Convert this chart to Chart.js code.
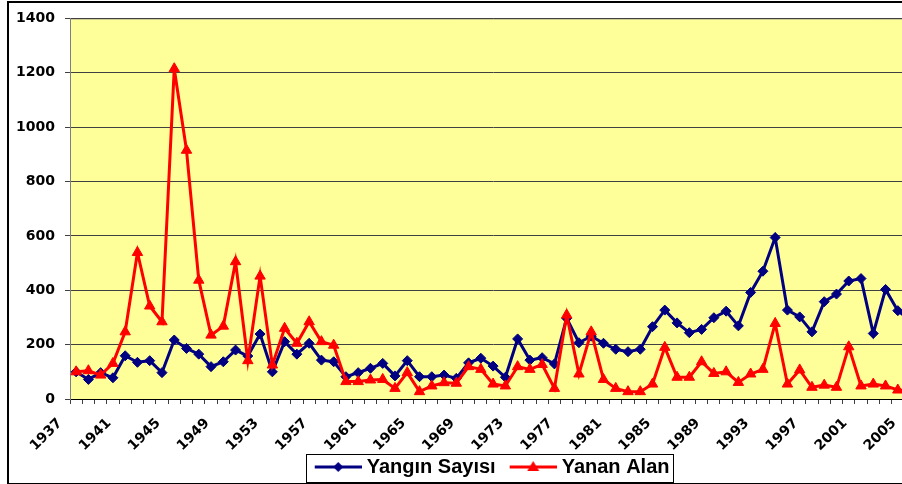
<!DOCTYPE html>
<html>
<head>
<meta charset="utf-8">
<script src="https://cdn.jsdelivr.net/npm/chart.js@4.4.1/dist/chart.umd.min.js"></script>
<style>
  html, body { margin: 0; padding: 0; background: #fff; }
  #wrap { position: relative; width: 902px; height: 484px; overflow: hidden; }
  #frame { position: absolute; left: 7px; top: 1px; width: 1000px; height: 480px; border: 2px solid #000; }
  #chart { position: absolute; left: 0; top: 0; }
</style>
</head>
<body>
<div id="wrap">
  <div id="frame"></div>
  <canvas id="chart" width="933" height="488"></canvas>
</div>
<script>
// categories: one per year
const years = [
  '1937', '1938', '1939', '1940', '1941', '1942', '1943', '1944', '1945', '1946',
  '1947', '1948', '1949', '1950', '1951', '1952', '1953', '1954', '1955', '1956',
  '1957', '1958', '1959', '1960', '1961', '1962', '1963', '1964', '1965', '1966',
  '1967', '1968', '1969', '1970', '1971', '1972', '1973', '1974', '1975', '1976',
  '1977', '1978', '1979', '1980', '1981', '1982', '1983', '1984', '1985', '1986',
  '1987', '1988', '1989', '1990', '1991', '1992', '1993', '1994', '1995', '1996',
  '1997', '1998', '1999', '2000', '2001', '2002', '2003', '2004', '2005'
];

// Yangın Sayısı (number of fires)
const yanginSayisi = [
  100, 72, 97, 78, 159, 135, 141, 97, 217, 186,
  165, 119, 137, 180, 158, 239, 100, 211, 165, 205,
  143, 137, 82, 97, 113, 131, 85, 141, 82, 82,
  88, 76, 133, 150, 121, 80, 221, 143, 152, 129,
  297, 207, 231, 205, 183, 174, 183, 266, 327, 280,
  244, 256, 299, 323, 269, 392, 470, 594, 327, 302,
  247, 358, 386, 434, 443, 241, 403, 325, 290
];

// Yanan Alan (burned area)
const yananAlan = [
  100, 104, 88, 131, 247, 539, 342, 284, 1215, 915,
  437, 235, 268, 505, 141, 452, 125, 260, 205, 284,
  211, 198, 64, 64, 70, 72, 39, 97, 27, 48,
  60, 58, 119, 109, 55, 48, 119, 109, 127, 39,
  309, 92, 247, 72, 39, 27, 27, 55, 190, 80,
  80, 137, 94, 100, 61, 92, 109, 278, 55, 107,
  43, 51, 43, 192, 48, 55, 48, 33, 30
];

const yTicks = [0, 200, 400, 600, 800, 1000, 1200, 1400];

const NAVY = '#000080';
const RED = '#FF0000';

// small line+marker picture for the legend
function legendIcon(color, shape) {
  const c = document.createElement('canvas');
  c.width = 50; c.height = 16;
  const g = c.getContext('2d');
  g.strokeStyle = color;
  g.fillStyle = color;
  g.lineWidth = 3;
  g.beginPath(); g.moveTo(3, 8); g.lineTo(50, 8); g.stroke();
  g.beginPath();
  const m = 26.5;
  if (shape === 'diamond') {
    g.moveTo(m, 3); g.lineTo(m + 5, 8); g.lineTo(m, 13); g.lineTo(m - 5, 8);
  } else {
    g.moveTo(m, 2); g.lineTo(m + 6, 12); g.lineTo(m - 6, 12);
  }
  g.closePath(); g.fill();
  return c;
}

const plotBackground = {
  id: 'plotBackground',
  beforeDraw(chart) {
    const { ctx, chartArea: a } = chart;
    ctx.save();
    ctx.fillStyle = '#FFFF99';
    ctx.fillRect(a.left, a.top, a.right - a.left, a.bottom - a.top);
    ctx.strokeStyle = '#808080';
    ctx.lineWidth = 1;
    ctx.beginPath();
    ctx.moveTo(a.left, a.top + 0.5); ctx.lineTo(a.right, a.top + 0.5);
    ctx.stroke();
    ctx.restore();
  }
};

// let the rotated year labels run down past the axis box instead of being clipped
const labelRoom = {
  id: 'labelRoom',
  afterLayout(chart) {
    chart.scales.x.bottom = chart.height;
  }
};

const legendFrame = {
  id: 'legendFrame',
  afterDraw(chart) {
    const boxes = chart.legend.legendHitBoxes;
    if (!boxes || !boxes.length) return;
    const first = boxes[0], last = boxes[boxes.length - 1];
    const { ctx } = chart;
    const cy = first.top + first.height / 2;
    const left = Math.round(first.left - 11);
    const right = Math.round(last.left + last.width + 4);
    ctx.save();
    ctx.strokeStyle = '#000';
    ctx.lineWidth = 1;
    ctx.strokeRect(left + 0.5, Math.round(cy - 13) + 0.5, right - left, 28);
    ctx.restore();
  }
};

new Chart(document.getElementById('chart'), {
  type: 'line',
  data: {
    labels: years,
    datasets: [
      {
        label: 'Yanan Alan',
        data: yananAlan,
        borderColor: RED,
        backgroundColor: RED,
        borderWidth: 3,
        pointStyle: 'triangle',
        pointRadius: 6,
        pointBorderWidth: 1,
        pointBorderColor: RED,
        pointBackgroundColor: RED,
        tension: 0
      },
      {
        label: 'Yangın Sayısı',
        data: yanginSayisi,
        borderColor: NAVY,
        backgroundColor: NAVY,
        borderWidth: 3,
        pointStyle: 'rectRot',
        pointRadius: 5,
        pointBorderWidth: 1,
        pointBorderColor: NAVY,
        pointBackgroundColor: NAVY,
        tension: 0
      }
    ]
  },
  options: {
    responsive: false,
    animation: false,
    devicePixelRatio: 1,
    layout: { padding: { left: 10, right: 4, top: 18, bottom: 1 } },
    scales: {
      x: {
        offset: true,
        afterFit: (scale) => { scale.height = 42; },
        border: { display: true, color: '#000', width: 1 },
        grid: {
          display: true,
          offset: true,
          drawOnChartArea: false,
          drawTicks: true,
          tickLength: 5,
          color: '#404040'
        },
        ticks: {
          autoSkip: false,
          maxRotation: 45,
          minRotation: 45,
          padding: 11,
          labelOffset: -16,
          color: '#000',
          font: { family: 'DejaVu Sans', weight: 'bold', size: 14 },
          callback: function (value, index) {
            return index % 4 === 0 ? this.getLabelForValue(value) : '';
          }
        }
      },
      y: {
        min: 0,
        max: 1400,
        afterFit: (scale) => { scale.width = 60; },
        afterBuildTicks: (scale) => { scale.ticks = yTicks.map(v => ({ value: v })); },
        border: { display: true, color: '#808080', width: 1 },
        grid: {
          color: '#404040',
          lineWidth: 1,
          tickLength: 5,
          drawTicks: true
        },
        ticks: {
          padding: 10,
          color: '#000',
          font: { family: 'DejaVu Sans', weight: 'bold', size: 14 },
          callback: (value) => String(value)
        }
      }
    },
    plugins: {
      tooltip: { enabled: false },
      legend: {
        position: 'bottom',
        fullSize: false,
        reverse: true,
        labels: {
          usePointStyle: true,
          pointStyleWidth: 40,
          padding: 16,
          color: '#000',
          font: { family: 'Liberation Sans', weight: 'bold', size: 20 },
          generateLabels: (chart) => {
            const items = Chart.defaults.plugins.legend.labels.generateLabels(chart);
            items.forEach(it => {
              const ds = chart.data.datasets[it.datasetIndex];
              it.pointStyle = legendIcon(ds.borderColor, ds.pointStyle === 'triangle' ? 'triangle' : 'diamond');
            });
            return items;
          }
        }
      }
    }
  },
  plugins: [plotBackground, labelRoom, legendFrame]
});
</script>
</body>
</html>
